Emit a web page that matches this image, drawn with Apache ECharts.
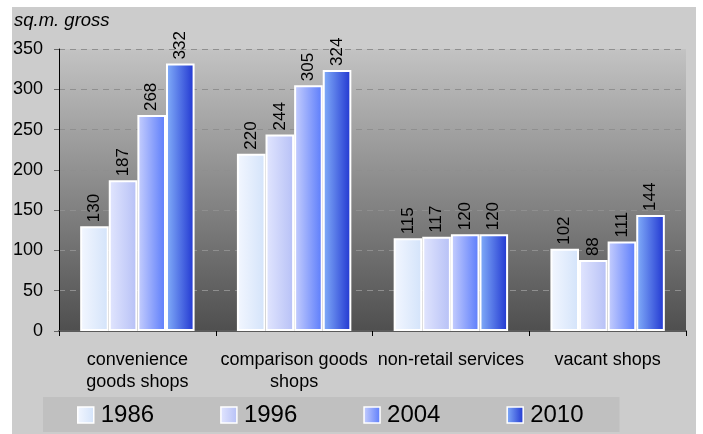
<!DOCTYPE html>
<html>
<head>
<meta charset="utf-8">
<script src="https://cdn.jsdelivr.net/npm/echarts@6/dist/echarts.min.js"></script>
<style>
  html, body { margin: 0; padding: 0; background: #ffffff; }
  #chart { width: 703px; height: 434px; }
</style>
</head>
<body>
<div id="chart"></div>
<script>
// Floor space by shop type, sq.m. gross
const categories = ['convenience\ngoods shops', 'comparison goods\nshops', 'non-retail services', 'vacant shops'];
const years = ['1986', '1996', '2004', '2010'];
const values1986 = [130, 220, 115, 102];
const values1996 = [187, 244, 117, 88];
const values2004 = [268, 305, 120, 111];
const values2010 = [332, 324, 120, 144];
const yTicks = { min: 0, max: 350, interval: 50 };

const seriesValues = [values1986, values1996, values2004, values2010];
// left-to-right shading of each year's bars
const shades = [
  ['#f3f7ff', '#d3e3fa'],
  ['#e2e6fe', '#b6c0f6'],
  ['#c8d0fd', '#5a7bfb'],
  ['#84b0fa', '#1f34d0']
];

const FONT = 'Arial, "Liberation Sans", sans-serif';

const chart = echarts.init(document.getElementById('chart'), null, { renderer: 'canvas' });

const series = years.map((y, i) => ({
  name: y,
  type: 'bar',
  data: seriesValues[i],
  barGap: '0%',
  barCategoryGap: '27%',
  itemStyle: {
    color: new echarts.graphic.LinearGradient(0, 0, 1, 0, [
      { offset: 0, color: shades[i][0] },
      { offset: 1, color: shades[i][1] }
    ]),
    borderColor: '#ffffff',
    borderWidth: 2
  },
  label: {
    show: true,
    position: 'top',
    rotate: 90,
    align: 'left',
    verticalAlign: 'middle',
    distance: 4,
    color: '#000000',
    fontFamily: FONT,
    fontSize: 17
  }
}));

chart.setOption({
  backgroundColor: '#ffffff',
  animation: false,
  graphic: [{
    type: 'rect',
    z: -10,
    shape: { x: 12, y: 7, width: 684, height: 427 },
    style: { fill: '#cccccc' }
  }],
  title: {
    text: 'sq.m. gross',
    left: 14,
    top: 11,
    padding: 0,
    textStyle: {
      fontFamily: FONT,
      fontSize: 18.5,
      fontStyle: 'italic',
      fontWeight: 'normal',
      color: '#000000'
    }
  },
  grid: {
    left: 59,
    right: 17,
    top: 49,
    bottom: 103,
    show: true,
    borderWidth: 0,
    backgroundColor: new echarts.graphic.LinearGradient(0, 0, 0, 1, [
      { offset: 0, color: '#c3c3c3' },
      { offset: 1, color: '#4f4f4f' }
    ])
  },
  legend: {
    data: years,
    left: 43,
    top: 397,
    orient: 'horizontal',
    backgroundColor: '#c0c0c0',
    padding: [6, 36, 5, 34],
    itemGap: 66,
    itemWidth: 16,
    itemHeight: 16,
    icon: 'rect',
    itemStyle: { borderColor: '#ffffff', borderWidth: 1.5 },
    textStyle: {
      fontFamily: FONT,
      fontSize: 24,
      color: '#000000',
      padding: [0, 0, 0, 2]
    }
  },
  xAxis: {
    type: 'category',
    data: categories,
    axisLine: { show: true, lineStyle: { color: '#5a5a5a', width: 2 } },
    axisTick: { show: true, alignWithLabel: false, length: 5, lineStyle: { color: '#000000' } },
    axisLabel: {
      interval: 0,
      margin: 18,
      fontFamily: FONT,
      fontSize: 18,
      lineHeight: 22,
      color: '#000000'
    },
    splitLine: { show: false }
  },
  yAxis: {
    type: 'value',
    min: yTicks.min,
    max: yTicks.max,
    interval: yTicks.interval,
    axisLine: { show: true, lineStyle: { color: '#000000', width: 1 } },
    axisTick: { show: true, length: 5, lineStyle: { color: '#666666' } },
    axisLabel: {
      margin: 16,
      fontFamily: FONT,
      fontSize: 18,
      color: '#000000'
    },
    splitLine: { show: true, lineStyle: { color: '#8f8f8f', type: [6, 5], width: 1 } }
  },
  series: series
});
</script>
</body>
</html>
